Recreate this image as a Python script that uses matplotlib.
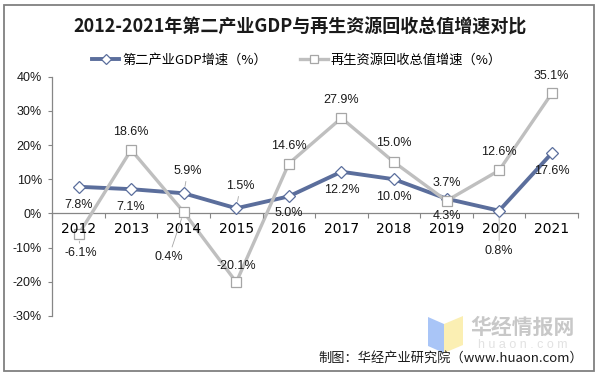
import matplotlib.pyplot as plt
import matplotlib.patches as mpatches
from matplotlib.lines import Line2D

# -----------------------------
# data
# -----------------------------
years = ["2012", "2013", "2014", "2015", "2016", "2017", "2018", "2019", "2020", "2021"]
gdp_growth = [7.8, 7.1, 5.9, 1.5, 5.0, 12.2, 10.0, 4.3, 0.8, 17.6]
recycle_growth = [-6.1, 18.6, 0.4, -20.1, 14.6, 27.9, 15.0, 3.7, 12.6, 35.1]
y_ticks = [-30, -20, -10, 0, 10, 20, 30, 40]

title = "2012-2021年第二产业GDP与再生资源回收总值增速对比"
gdp_name = "第二产业GDP增速（%）"
recycle_name = "再生资源回收总值增速（%）"
source = "制图：华经产业研究院（www.huaon.com）"

# label offsets in pixels (dx, dy), dy positive = down ; leader flag
gdp_off = [(0, 18), (0, 18), (4, -22), (4, -22), (0, 17), (0, 18), (0, 18), (0, 17), (0, 40), (0, 18)]
gdp_lead = [0, 0, 1, 1, 0, 0, 0, 0, 1, 0]
rec_off = [(2, 19), (0, -18), (-15, 45), (0, -16), (0, -18), (0, -18), (0, -19), (0, -18), (0, -18), (0, -17)]
rec_lead = [1, 0, 1, 0, 0, 0, 0, 0, 0, 0]

BLUE = "#5B6E9C"
GRAY = "#BFBFBF"
CJK = ["Noto Sans CJK SC", "DejaVu Sans"]
NUM = ["Liberation Sans", "Noto Sans CJK SC"]

W, H = 599, 377
fig = plt.figure(figsize=(W / 100, H / 100), dpi=100)

def fx(px):
    return px / W

def fy(py):
    return 1 - py / H

# border
fig.patches.append(mpatches.Rectangle((fx(4), fy(371)), fx(590), (371 - 5) / H,
                                      transform=fig.transFigure, fill=False,
                                      edgecolor="#808080", lw=1.3))

ax = fig.add_axes([fx(52.3), fy(316), fx(578) - fx(52.3), fy(76.7) - fy(316)])
x = list(range(len(years)))

ax.plot(x, gdp_growth, color=BLUE, lw=2.8, marker="D", ms=6.5, mfc="white",
        mec=BLUE, mew=0.9, zorder=2)
ax.plot(x, recycle_growth, color=GRAY, lw=2.4, marker="s", ms=7, mfc="white",
        mec="#A6A6A6", mew=0.9, zorder=2.2)

def add_labels(vals, offs, leads):
    for i, v in enumerate(vals):
        dx, dy = offs[i]
        kw = {}
        if leads[i]:
            kw["arrowprops"] = dict(arrowstyle="-", color="#A6A6A6", lw=0.6,
                                    shrinkA=1, shrinkB=5)
        ax.annotate(f"{v:.1f}%", (i, v), xytext=(dx * 0.72, -dy * 0.72),
                    textcoords="offset points", ha="center", va="center",
                    fontsize=9, family=NUM, color="#1a1a1a", zorder=6, **kw)

add_labels(gdp_growth, gdp_off, gdp_lead)
add_labels(recycle_growth, rec_off, rec_lead)

ax.set_xlim(-0.5, len(years) - 0.5)
ax.set_ylim(-30, 40)
ax.set_yticks(y_ticks)
ax.set_yticklabels([f"{t}%" for t in y_ticks], family=NUM, fontsize=9, color="#1a1a1a")
ax.set_xticks(x)
ax.set_xticklabels(years, family=NUM, fontsize=9, color="#1a1a1a")
ax.set_xticks([i - 0.5 for i in range(len(years) + 1)], minor=True)
ax.tick_params(axis="x", which="major", length=0, pad=6)
ax.tick_params(axis="x", which="minor", length=3.5, width=0.8, color="#868686", direction="out")
ax.tick_params(axis="y", length=3, width=0.8, color="#868686", pad=4.5)
ax.xaxis.set_zorder(5)

for s in ["top", "right"]:
    ax.spines[s].set_visible(False)
ax.spines["bottom"].set_position(("data", 0))
for s in ["left", "bottom"]:
    ax.spines[s].set_color("#868686")
    ax.spines[s].set_linewidth(0.9)
ax.spines["bottom"].set_zorder(1.5)
ax.patch.set_alpha(0)

# title + legend
fig.text(fx(300), fy(27), title, ha="center", va="center", fontsize=13,
         fontweight="bold", family=CJK, color="#1a1a1a")
handles = [Line2D([], [], color=BLUE, lw=2.8, marker="D", ms=5.5, mfc="white", mec=BLUE, mew=0.9),
           Line2D([], [], color=GRAY, lw=2.4, marker="s", ms=6, mfc="white", mec="#A6A6A6", mew=0.9)]
fig.legend(handles, [gdp_name, recycle_name], loc="center", bbox_to_anchor=(fx(296.5), fy(60)),
           ncol=2, frameon=False, prop={"family": CJK, "size": 9.5}, handlelength=2.1,
           handletextpad=0.2, columnspacing=2.5, borderpad=0)

# watermark
fig.patches.append(mpatches.Polygon([(fx(428), fy(317)), (fx(444), fy(324)), (fx(444), fy(353)), (fx(428), fy(346))],
                                    closed=True, transform=fig.transFigure, color="#A9C5F7", lw=0))
fig.patches.append(mpatches.Polygon([(fx(444), fy(324)), (fx(463), fy(316)), (fx(463), fy(345)), (fx(444), fy(353))],
                                    closed=True, transform=fig.transFigure, color="#FBEFB3", lw=0))
fig.text(fx(523), fy(327), "华经情报网", ha="center", va="center", fontsize=15,
         fontweight="bold", family=CJK, color="#C8C8C8")
fig.text(fx(523), fy(345), "h u a o n . c o m", ha="center", va="center", fontsize=9,
         family=NUM, color="#E2E2E2")

fig.text(fx(583), fy(358), source, ha="right", va="center", fontsize=9.5,
         family=CJK, color="#1a1a1a")

fig.savefig("out.png", dpi=100)
